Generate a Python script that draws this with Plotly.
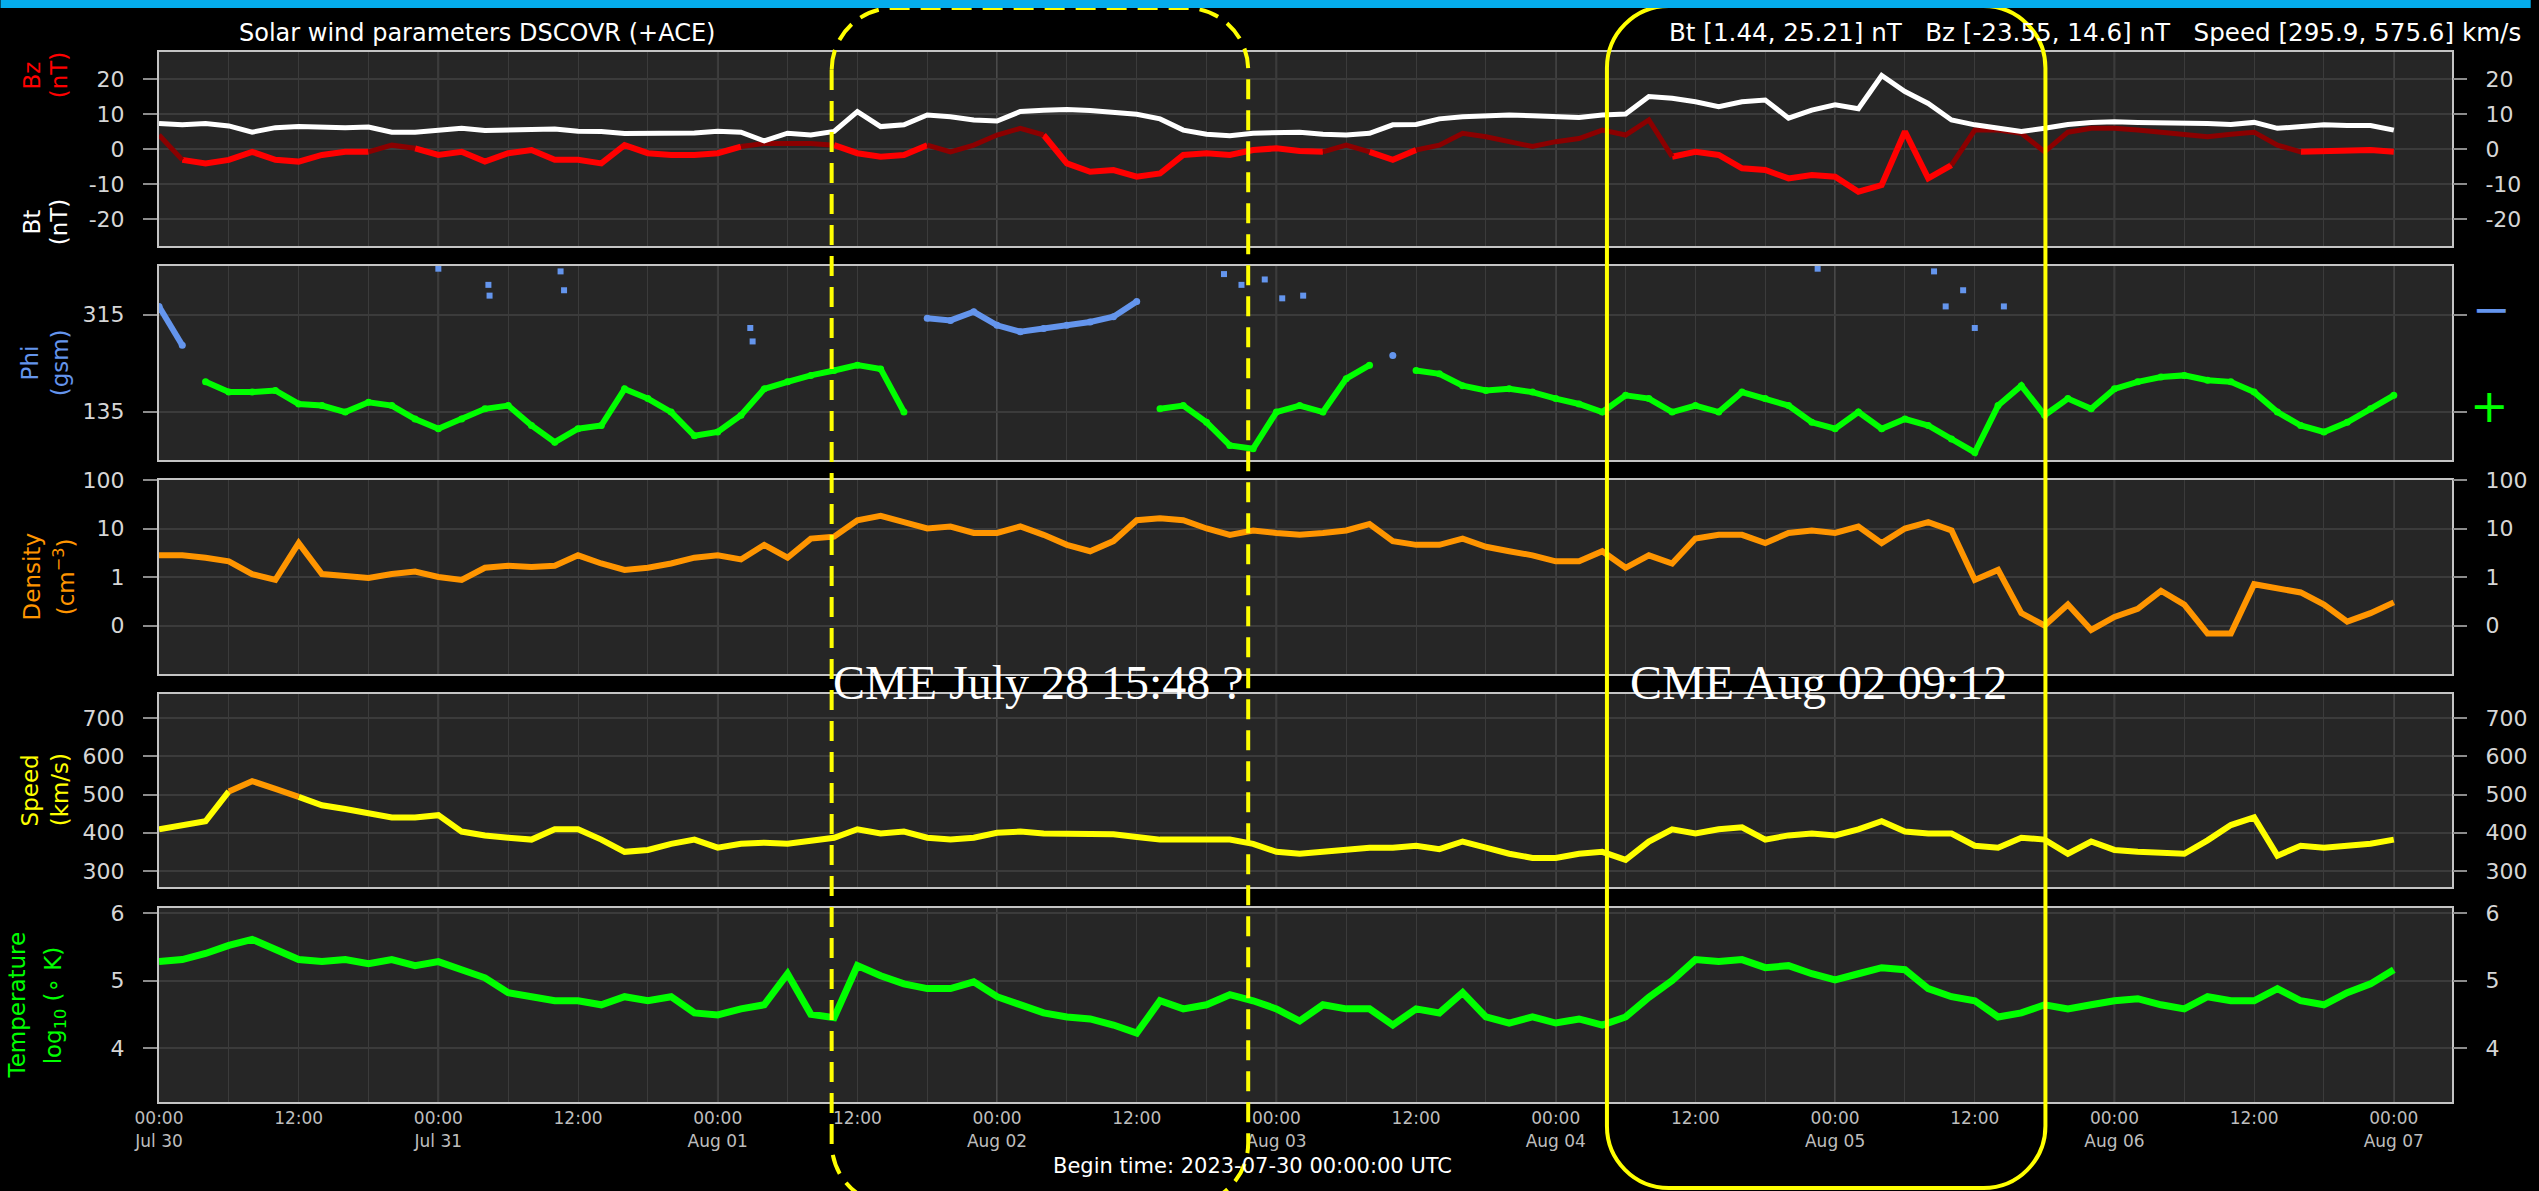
import plotly.graph_objects as go
import pandas as pd

# ---------------- data (every 2 h from 2023-07-30 00:00 UTC) -------------
hours = list(range(0, 193, 2))

bt = [7.3, 6.9, 7.3, 6.6, 4.8, 6.1, 6.4, 6.1, 6.1, 6.3, 4.8, 4.8, 5.2, 5.9, 5.3, 5.4, 5.3, 5.7, 5.1, 5.0,
      4.4, 4.4, 4.4, 4.6, 5.1, 4.8, 2.3, 4.5, 4.0, 5.0, 10.7, 6.4, 6.9, 9.7, 9.2, 8.3, 8.0, 10.7, 11.1, 11.3,
      11.0, 10.4, 9.9, 8.6, 5.4, 4.2, 3.8, 4.5, 4.8,
      4.8, 4.2, 4.0, 4.5, 6.9, 7.0, 8.6, 9.2, 9.5, 9.7, 9.5, 9.2, 9.0, 9.7, 10.0, 15.0, 14.5, 13.5, 12.1, 13.5,
      14.0, 8.8, 11.1, 12.6, 11.5, 21.0, 16.4, 13.0, 8.3, 6.9, 5.9, 5.0, 5.9, 7.0, 7.6, 7.8, 7.6, 7.6, 7.6, 7.3,
      7.0, 7.6, 5.9, 6.4, 6.9, 6.7, 6.7, 5.4]

bz = [4.0, -3.1, -4.1, -3.1, -0.8, -3.1, -3.6, -1.7, -0.8, -0.8, 1.1, 0.2, -1.7, -0.8, -3.6, -1.2, -0.3, -3.1,
      -3.1, -4.1, 1.1, -1.2, -1.7, -1.7, -1.2, 0.7, 1.6, 1.6, 1.6, 1.1, -1.2, -2.2, -1.7, 1.1, -0.8, 1.1, 4.0,
      5.9, 4.0, -4.1, -6.5, -6.0, -7.9, -7.0, -1.7, -1.2, -1.7, -0.3, 0.2,
      -0.6, -0.8, 1.1, -0.8, -3.1, -0.3, 1.1, 4.5, 3.5, 2.1, 0.7, 2.1, 3.0, 5.4, 4.0, 8.3, -2.2, -0.8, -1.7,
      -5.5, -6.0, -8.4, -7.4, -7.9, -12.2, -10.3, 5.0, -8.4, -4.6, 5.4, 5.4, 4.5, -0.8, 4.8, 5.9, 5.9, 5.4, 4.8,
      4.2, 3.5, 4.2, 4.8, 1.1, -0.8, -0.6, -0.3, -0.3, -0.8]

phi = [330, 258, 190, 171, 171, 174, 149, 146, 134, 152, 146, 121, 103, 121, 140, 146, 109, 78, 103, 109,
       177, 159, 134, 90, 97, 128, 177, 190, 202, 211, 221, 214, 134, 308, 304, 320, 295, 283, 289, 295,
       301, 311, 339, 140, 146, 115, 72, 66, 134,
       146, 134, 196, 221, 239, 211, 205, 183, 174, 177, 171, 159, 149, 134, 165, 159, 134, 146, 134, 171,
       159, 146, 115, 103, 134, 103, 121, 109, 84, 59, 146, 183, 128, 159, 140, 177, 190, 199, 202, 193,
       190, 171, 134, 109, 97, 115, 140, 165]

phi_extra_hours = [24.0, 28.3, 28.4, 34.5, 34.8, 50.8, 51.0, 91.5, 93.0, 95.0, 96.5, 98.3,
                   142.5, 152.5, 153.5, 155.0, 156.0, 158.5]
phi_extra = [400, 370, 350, 395, 360, 290, 265, 390, 370, 380, 345, 350,
             400, 395, 330, 360, 290, 330]

density = [2.8, 2.8, 2.5, 2.1, 1.15, 0.87, 5.0, 1.15, 1.05, 0.95, 1.15, 1.3, 1.0, 0.87, 1.55, 1.7, 1.6, 1.7,
           2.8, 1.9, 1.4, 1.55, 1.9, 2.5, 2.8, 2.3, 4.6, 2.5, 6.2, 6.8, 14.8, 18.2, 13.5, 10.0, 11.0, 8.1, 8.1,
           11.0, 7.4, 4.6, 3.4, 5.5, 14.8, 16.2, 14.8, 10.0, 7.4, 9.1, 8.1,
           7.4, 8.1, 9.1, 12.3, 5.5, 4.6, 4.6, 6.2, 4.2, 3.4, 2.8, 2.1, 2.1, 3.4, 1.55, 2.8, 1.9, 6.2, 7.4, 7.4,
           5.0, 8.1, 9.1, 8.1, 11.0, 5.0, 10.0, 13.5, 9.1, 0.87, 1.4, 0.18, 0.10, 0.27, 0.081, 0.15, 0.22, 0.52,
           0.27, 0.068, 0.068, 0.71, 0.59, 0.48, 0.27, 0.12, 0.18, 0.30]

speed = [409, 419, 430, 508, 535, 515, 494, 472, 462, 451, 440, 440, 446, 403, 393, 387, 382, 409, 409, 382,
         350, 355, 371, 382, 361, 371, 374, 371, 379, 387, 409, 398, 403, 387, 382, 387, 400, 403, 398, 398,
         398, 396, 389, 382, 382, 382, 382, 371, 350,
         345, 350, 355, 361, 361, 366, 357, 377, 361, 345, 334, 334, 345, 350, 329, 377, 409, 398, 409, 414,
         382, 393, 398, 393, 409, 430, 403, 398, 398, 366, 361, 387, 382, 345, 377, 355, 350, 347, 345, 380,
         420, 440, 340, 366, 361, 366, 371, 382]

temperature = [5.28, 5.31, 5.40, 5.52, 5.61, 5.46, 5.31, 5.28, 5.31, 5.25, 5.31, 5.22, 5.28, 5.16, 5.04, 4.82,
               4.76, 4.70, 4.70, 4.64, 4.76, 4.70, 4.76, 4.52, 4.49, 4.58, 4.64, 5.10, 4.50, 4.45, 5.22, 5.07,
               4.95, 4.88, 4.88, 4.98, 4.76, 4.64, 4.52, 4.46, 4.43, 4.34, 4.22, 4.70, 4.58, 4.64, 4.79, 4.70,
               4.58,
               4.40, 4.64, 4.58, 4.58, 4.34, 4.58, 4.52, 4.82, 4.46, 4.37, 4.46, 4.37, 4.43, 4.34, 4.46, 4.75,
               5.00, 5.31, 5.28, 5.31, 5.19, 5.22, 5.10, 5.01, 5.10, 5.19, 5.16, 4.88, 4.76, 4.70, 4.46, 4.52,
               4.64, 4.58, 4.64, 4.70, 4.73, 4.64, 4.58, 4.76, 4.70, 4.70, 4.88, 4.70, 4.64, 4.82, 4.95, 5.16]

day_names = ["Jul 30", "Jul 31", "Aug 01", "Aug 02", "Aug 03", "Aug 04", "Aug 05", "Aug 06", "Aug 07"]
bz_ticks = [-20, -10, 0, 10, 20]
phi_ticks = [135, 315]
dens_ticks = [0.1, 1, 10, 100]
dens_labels = ["0", "1", "10", "100"]
speed_ticks = [300, 400, 500, 600, 700]
temp_ticks = [4, 5, 6]

# ---------------- helpers ----------------
T0 = pd.Timestamp("2023-07-30 00:00:00")


def tstamp(h):
    return (T0 + pd.Timedelta(hours=h)).strftime("%Y-%m-%d %H:%M:%S")


times = [tstamp(h) for h in hours]
W, H = 2539, 1191
PL, PR, PT, PB = 159, 2460, 52, 1102
panels = [(52, 246), (266, 460), (480, 674), (694, 887), (908, 1102)]


def px(x):
    return (x - PL) / (PR - PL)


def py(y):
    return (PB - y) / (PB - PT)


def seg_split(ys, cond):
    a = [None] * len(ys)
    b = [None] * len(ys)
    for i in range(len(ys) - 1):
        m = (ys[i] + ys[i + 1]) / 2
        tgt = a if cond(m) else b
        tgt[i] = ys[i]
        tgt[i + 1] = ys[i + 1]
    return a, b


def strict(ys, cond):
    return [v if cond(v) else None for v in ys]


fig = go.Figure()


def ax(r):
    return ("x" if r == 1 else "x%d" % r), ("y" if r == 1 else "y%d" % (2 * r - 1)), "y%d" % (2 * r)


# Row 1 : Bz / Bt
xa, ya, yr = ax(1)
bz_neg, bz_pos = seg_split(bz, lambda v: v < 0)
fig.add_trace(go.Scatter(x=times, y=bz_neg, mode="lines", line=dict(color="#ff0000", width=6),
                         xaxis=xa, yaxis=ya, showlegend=False))
fig.add_trace(go.Scatter(x=times, y=bz_pos, mode="lines", line=dict(color="#8b0000", width=5),
                         xaxis=xa, yaxis=ya, showlegend=False))
fig.add_trace(go.Scatter(x=times, y=bt, mode="lines", line=dict(color="#ffffff", width=5),
                         xaxis=xa, yaxis=ya, showlegend=False))

# Row 2 : Phi
xa, ya, yr = ax(2)
fig.add_trace(go.Scatter(x=times, y=strict(phi, lambda v: v < 225), mode="lines+markers",
                         line=dict(color="#00ff00", width=6), marker=dict(size=7, color="#00ff00"),
                         xaxis=xa, yaxis=ya, showlegend=False))
fig.add_trace(go.Scatter(x=times, y=strict(phi, lambda v: v >= 225), mode="lines+markers",
                         line=dict(color="#6495ed", width=6), marker=dict(size=7, color="#6495ed"),
                         xaxis=xa, yaxis=ya, showlegend=False))
fig.add_trace(go.Scatter(x=[tstamp(h) for h in phi_extra_hours], y=phi_extra, mode="markers",
                         marker=dict(size=6, color="#6495ed", symbol="square"),
                         xaxis=xa, yaxis=ya, showlegend=False))

# Row 3 : Density
xa, ya, yr = ax(3)
fig.add_trace(go.Scatter(x=times, y=density, mode="lines", line=dict(color="#ff9500", width=6),
                         xaxis=xa, yaxis=ya, showlegend=False))

# Row 4 : Speed
xa, ya, yr = ax(4)
sp_hi, sp_lo = seg_split(speed, lambda v: v >= 500)
fig.add_trace(go.Scatter(x=times, y=sp_lo, mode="lines", line=dict(color="#ffff00", width=6),
                         xaxis=xa, yaxis=ya, showlegend=False))
fig.add_trace(go.Scatter(x=times, y=sp_hi, mode="lines", line=dict(color="#ff9900", width=6),
                         xaxis=xa, yaxis=ya, showlegend=False))

# Row 5 : Temperature
xa, ya, yr = ax(5)
fig.add_trace(go.Scatter(x=times, y=temperature, mode="lines", line=dict(color="#00ff00", width=7),
                         xaxis=xa, yaxis=ya, showlegend=False))

# empty traces so the right-hand axes are drawn
for r in range(1, 6):
    xa, ya, yr = ax(r)
    fig.add_trace(go.Scatter(x=[times[0]], y=[None], xaxis=xa, yaxis=yr, showlegend=False,
                             hoverinfo="skip"))

# ---------------- axes ----------------
xrange_ = [tstamp(0), tstamp(197)]
tick_hours = list(range(0, 193, 12))
tick_vals = [tstamp(h) for h in tick_hours]
tick_text = ["00:00<br>" + day_names[h // 24] if h % 24 == 0 else "12:00" for h in tick_hours]

GRID = "#3b3b3b"
TICKC = "#8c8c8c"
LINEC = "#c4c4c4"
TICKF = dict(family="DejaVu Sans", size=22, color="#d6d6d6")

yspecs = [
    dict(range=[-27.7, 27.7], tickvals=bz_ticks, ticktext=[str(v) for v in bz_ticks]),
    dict(range=[45, 405], tickvals=phi_ticks, ticktext=[str(v) for v in phi_ticks]),
    dict(type="log", range=[-2, 2], tickvals=dens_ticks, ticktext=dens_labels),
    dict(range=[258, 763], tickvals=speed_ticks, ticktext=[str(v) for v in speed_ticks]),
    dict(range=[3.2, 6.074], tickvals=temp_ticks, ticktext=[str(v) for v in temp_ticks]),
]

layout = dict(
    width=W, height=H, autosize=False,
    margin=dict(l=PL, r=W - PR, t=PT, b=H - PB, pad=0),
    paper_bgcolor="#000000", plot_bgcolor="#262626",
    showlegend=False,
    font=dict(family="DejaVu Sans", color="#ffffff"),
)

for r in range(1, 6):
    xa, ya, yr = ax(r)
    top, bot = panels[r - 1]
    dom = [py(bot), py(top)]
    xkey = "xaxis" if r == 1 else "xaxis%d" % r
    layout[xkey] = dict(
        type="date", range=xrange_, domain=[0, 1], anchor=ya,
        tickmode="array", tickvals=tick_vals, ticktext=tick_text,
        showticklabels=(r == 5), ticks="",
        tickfont=dict(family="DejaVu Sans", size=17, color="#bdbdbd"),
        showgrid=True, gridcolor=GRID, gridwidth=1,
        minor=dict(dtick=6 * 3600 * 1000, tick0=tstamp(0), showgrid=True, gridcolor=GRID, gridwidth=1,
                   ticks=""),
        showline=True, mirror=True, linecolor=LINEC, linewidth=2, zeroline=False,
        fixedrange=True,
    )
    spec = yspecs[r - 1]
    ykey = "yaxis" if r == 1 else "yaxis%d" % (2 * r - 1)
    base = dict(tickmode="array", ticks="outside", ticklen=14, tickwidth=2, tickcolor=TICKC,
                tickfont=TICKF, zeroline=False, fixedrange=True, **spec)
    layout[ykey] = dict(domain=dom, anchor=xa, side="left", showgrid=True, gridcolor=GRID, gridwidth=1.5,
                        showline=True, mirror=True, linecolor=LINEC, linewidth=2, ticklabelstandoff=14,
                        **base)
    rkey = "yaxis%d" % (2 * r)
    layout[rkey] = dict(overlaying=ya, anchor=xa, side="right", showgrid=False, showline=False,
                        ticklabelstandoff=14, showticklabels=(r != 2), **base)

fig.update_layout(**layout)

# ---------------- day grid lines ----------------
shapes = []
for r in range(1, 6):
    xa, ya, yr = ax(r)
    for d in range(1, 9):
        shapes.append(dict(type="line", xref=xa, yref=ya + " domain", x0=tstamp(24 * d), x1=tstamp(24 * d),
                           y0=0, y1=1, line=dict(color="#5a5a5a", width=1.5), layer="below"))


# ---------------- CME boxes ----------------
def rrect_path(x0, y0, x1, y1, r):
    k = 0.5523 * r

    def P(x, y):
        return "%.5f,%.5f" % (px(x), py(y))

    return ("M " + P(x0, y0 + r) + " L " + P(x0, y1 - r) +
            " C " + P(x0, y1 - r + k) + " " + P(x0 + r - k, y1) + " " + P(x0 + r, y1) +
            " L " + P(x1 - r, y1) +
            " C " + P(x1 - r + k, y1) + " " + P(x1, y1 - r + k) + " " + P(x1, y1 - r) +
            " L " + P(x1, y0 + r) +
            " C " + P(x1, y0 + r - k) + " " + P(x1 - r + k, y0) + " " + P(x1 - r, y0) +
            " L " + P(x0 + r, y0) +
            " C " + P(x0 + r - k, y0) + " " + P(x0, y0 + r - k) + " " + P(x0, y0 + r) + " Z")


shapes.append(dict(type="path", xref="paper", yref="paper", path=rrect_path(834, 8, 1252, 1205, 62),
                   line=dict(color="#ffff00", width=4, dash="20px,11px"), layer="above"))
shapes.append(dict(type="path", xref="paper", yref="paper", path=rrect_path(1612, 6, 2052, 1188, 62),
                   line=dict(color="#ffff00", width=4), layer="above"))
# top page bar
shapes.append(dict(type="rect", xref="paper", yref="paper", x0=px(0), x1=px(W), y0=py(8), y1=py(-2),
                   fillcolor="#05acec", line=dict(width=0), layer="above"))
fig.update_layout(shapes=shapes)


# ---------------- texts ----------------
def ann(text, x, y, size=22, color="#ffffff", family="DejaVu Sans", angle=0, xanchor="center",
        yanchor="middle"):
    return dict(text=text, x=px(x), y=py(y), xref="paper", yref="paper", showarrow=False,
                font=dict(size=size, color=color, family=family), textangle=angle,
                xanchor=xanchor, yanchor=yanchor, borderpad=0)


anns = [
    ann("Solar wind parameters DSCOVR (+ACE)", 478, 33, size=24),
    ann("Bt\u00a0[1.44,\u00a025.21]\u00a0nT\u00a0\u00a0\u00a0Bz\u00a0[-23.55,\u00a014.6]\u00a0nT"
        "\u00a0\u00a0\u00a0Speed\u00a0[295.9,\u00a0575.6]\u00a0km/s", 2530, 33, size=24.6, xanchor="right"),
    ann("Begin time: 2023-07-30 00:00:00 UTC", 1256, 1166, size=21),
    # left axis titles
    ann("Bz", 32, 75, color="#ff0000", angle=-90, size=23),
    ann("(nT)", 59, 75, color="#ff0000", angle=-90, size=23),
    ann("Bt", 32, 222, color="#ffffff", angle=-90, size=23),
    ann("(nT)", 59, 222, color="#ffffff", angle=-90, size=23),
    ann("Phi", 30, 363, color="#6495ed", angle=-90, size=23),
    ann("(gsm)", 60, 363, color="#6495ed", angle=-90, size=23),
    ann("Density", 32, 577, color="#ff9500", angle=-90, size=23),
    ann("(cm<sup>\u22123</sup>)", 64, 577, color="#ff9500", angle=-90, size=23),
    ann("Speed", 30, 790, color="#ffff00", angle=-90, size=23),
    ann("(km/s)", 60, 790, color="#ffff00", angle=-90, size=23),
    ann("Temperature", 17, 1005, color="#00ff00", angle=-90, size=23),
    ann("log<sub>10</sub> (\u2218 K)", 55, 1005, color="#00ff00", angle=-90, size=23),
    # phi sector symbols
    ann("\u2212", 2500, 309, color="#6495ed", size=46),
    ann("+", 2498, 406, color="#00ff00", size=46),
    # CME labels
    ann("CME July 28 15:48 ?", 834, 682, size=48, family="Liberation Serif", xanchor="left"),
    ann("CME Aug 02 09:12", 1634, 682, size=48, family="Liberation Serif", xanchor="left"),
]
fig.update_layout(annotations=anns)

fig.write_html("out.html", config={"displayModeBar": False},
               post_script="document.body.style.margin='0';document.body.style.overflow='hidden';")
